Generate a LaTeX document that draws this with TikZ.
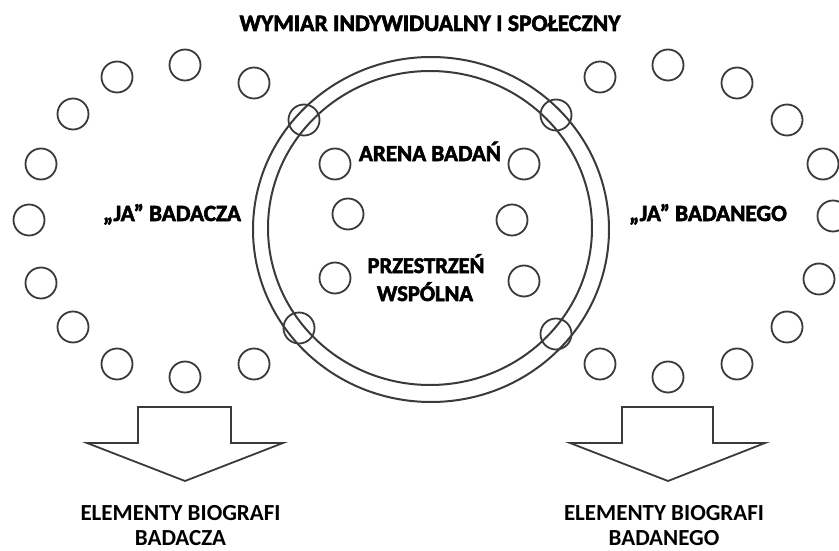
\documentclass[tikz,border=0pt]{standalone}
\usepackage{fontspec}
\setmainfont{Carlito}
\newfontfamily\heavy{Carlito}[UprightFont=* Bold, UprightFeatures={FakeBold=2.5}]
\definecolor{linec}{HTML}{3A3A3A}
\begin{document}
\begin{tikzpicture}[x=1pt,y=-1pt,
  ring/.style={circle,draw=linec,line width=1.8pt,minimum size=31pt,inner sep=0pt},
  bigring/.style={draw=linec,line width=2pt},
  lbl/.style={font=\heavy\fontsize{22.5}{28}\selectfont,text=black,anchor=base,inner sep=0pt},
  lblb/.style={font=\bfseries\fontsize{23}{28}\selectfont,text=black,anchor=base,inner sep=0pt},
  blockarrow/.style={draw=linec,line width=1.8pt,line join=miter,fill=white}]
\useasboundingbox (0,0) rectangle (839,551);
% big double circle
\draw[bigring] (431,229.5) ellipse [x radius=178, y radius=172.5];
\draw[bigring] (430,228) ellipse [x radius=162, y radius=157];
% left ring
\foreach \n/\p in {l1/{117,77},l2/{185,65},l3/{254,83},l4/{73,114},l5/{41,164},l6/{29,220},
  l7/{41,283},l8/{73,327},l9/{117,364},l10/{185,377},l11/{254,364}}
  \node[ring] (\n) at (\p) {};
% right ring
\foreach \n/\p in {r1/{600,77},r2/{668,65},r3/{737,83},r4/{787,120},r5/{823,164},r6/{833,216},
  r7/{819,279},r8/{787,327},r9/{737,364},r10/{668,377},r11/{600,364}}
  \node[ring] (\n) at (\p) {};
% circles on the big ring
\foreach \n/\p in {b1/{304,120},b2/{299,328},b3/{556,115},b4/{556,334}}
  \node[ring] (\n) at (\p) {};
% circles inside
\foreach \n/\p in {i1/{335,164},i2/{348,214},i3/{335,278},i4/{524,164},i5/{512,220},i6/{524,281}}
  \node[ring] (\n) at (\p) {};
% texts
\node[lbl,font=\heavy\fontsize{23.6}{28}\selectfont] (title) at (430,31) {WYMIAR INDYWIDUALNY I SPOŁECZNY};
\node[lbl,font=\heavy\fontsize{23}{28}\selectfont] (arena) at (430,161) {ARENA BADAŃ};
\node[lbl] (przes1) at (426,273) {PRZESTRZEŃ};
\node[lbl] (przes2) at (425,301) {WSPÓLNA};
\node[lbl,font=\heavy\fontsize{23.2}{28}\selectfont] (jab) at (172,221) {„JA” BADACZA};
\node[lbl,font=\heavy\fontsize{23.2}{28}\selectfont] (jan) at (708,221) {„JA” BADANEGO};
\node[lblb] (eb1a) at (180.5,520) {ELEMENTY BIOGRAFI};
\node[lblb] (eb1b) at (180.5,545) {BADACZA};
\node[lblb] (eb2a) at (664,520) {ELEMENTY BIOGRAFI};
\node[lblb] (eb2b) at (664,545) {BADANEGO};
% block arrows
\draw[blockarrow] (138,407) -- (231,407) -- (231,443) -- (283,443) -- (185,481)
  -- (87,443) -- (138,443) -- cycle;
\draw[blockarrow] (622,407) -- (713,407) -- (713,443) -- (765,443) -- (668,481)
  -- (570,443) -- (622,443) -- cycle;
\end{tikzpicture}
\end{document}
